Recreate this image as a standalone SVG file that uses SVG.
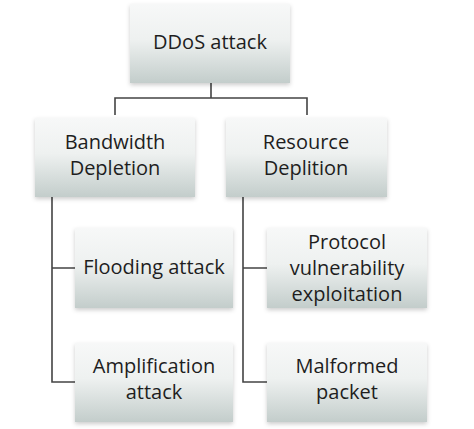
<svg xmlns="http://www.w3.org/2000/svg" width="474" height="429" viewBox="0 0 474 429">
<defs>
<linearGradient id="g" x1="0" y1="0" x2="0" y2="1">
<stop offset="0" stop-color="#f7f8f8"/>
<stop offset="0.45" stop-color="#eef1f0"/>
<stop offset="1" stop-color="#c3cdcb"/>
</linearGradient>
<filter id="sh" x="-10%" y="-10%" width="120%" height="125%">
<feDropShadow dx="0" dy="2" stdDeviation="2" flood-color="#000" flood-opacity="0.2"/>
</filter>
</defs>
<style>
.box{fill:url(#g);filter:url(#sh)}
.t{font-family:"Open Sans","Liberation Sans",sans-serif;font-size:20px;fill:#1e1e1e;text-anchor:middle}
.c{fill:none;stroke:#444;stroke-width:1.6}
</style>
<rect width="474" height="429" fill="#fff"/>
<g id="connectors">
<path class="c" d="M211 83V98M115 115V98H307V115"/>
<path class="c" d="M52 197V382H75M52 268H75"/>
<path class="c" d="M243 197V382H267M243 268H267"/>
</g>
<g id="ddos"><rect class="box" x="130" y="4" width="160" height="79"/><text class="t" x="210" y="49">DDoS attack</text></g>
<g id="bandwidth"><rect class="box" x="35" y="118" width="160" height="79"/><text class="t" x="115" y="149">Bandwidth</text><text class="t" x="115" y="175">Depletion</text></g>
<g id="resource"><rect class="box" x="226" y="118" width="161" height="79"/><text class="t" x="306" y="149">Resource</text><text class="t" x="306" y="175">Deplition</text></g>
<g id="flooding"><rect class="box" x="75" y="228" width="158" height="80"/><text class="t" x="154" y="274">Flooding attack</text></g>
<g id="protocol"><rect class="box" x="267" y="228" width="160" height="80"/><text class="t" x="347" y="249">Protocol</text><text class="t" x="347" y="275">vulnerability</text><text class="t" x="347" y="301">exploitation</text></g>
<g id="amplification"><rect class="box" x="75" y="343" width="158" height="79"/><text class="t" x="154" y="373">Amplification</text><text class="t" x="154" y="399">attack</text></g>
<g id="malformed"><rect class="box" x="267" y="343" width="160" height="79"/><text class="t" x="347" y="373">Malformed</text><text class="t" x="347" y="399">packet</text></g>
</svg>
